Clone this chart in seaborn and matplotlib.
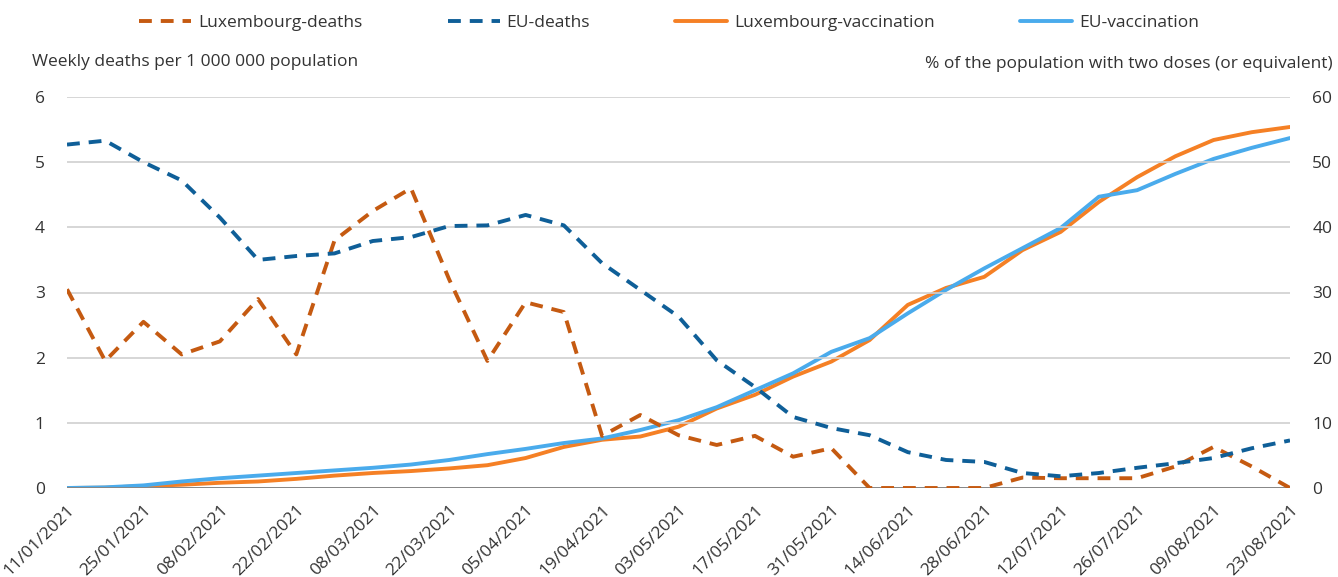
import numpy as np
import pandas as pd
import matplotlib
matplotlib.use("Agg")
import matplotlib.pyplot as plt
import seaborn as sns

sns.set_theme(style="white")
plt.rcParams['font.family'] = ['Open Sans', 'DejaVu Sans']

weeks = pd.date_range("2021-01-11", "2021-08-23", freq="7D")

lux_deaths = [3.05, 1.95, 2.55, 2.05, 2.25, 2.9, 2.05, 3.8, 4.25, 4.6, 3.2, 1.95,
              2.85, 2.7, 0.8, 1.12, 0.81, 0.66, 0.8, 0.48, 0.61, 0.0, 0.0, 0.0,
              0.0, 0.16, 0.15, 0.15, 0.15, 0.33, 0.63, 0.33, 0.0]
eu_deaths = [5.27, 5.33, 5.0, 4.72, 4.15, 3.5, 3.56, 3.6, 3.79, 3.85, 4.02, 4.03,
             4.19, 4.03, 3.45, 3.04, 2.63, 1.96, 1.55, 1.09, 0.92, 0.81, 0.55, 0.43,
             0.4, 0.23, 0.18, 0.23, 0.31, 0.38, 0.46, 0.61, 0.73]
lux_vacc = [0.0, 0.05, 0.3, 0.5, 0.8, 1.0, 1.4, 1.9, 2.3, 2.6, 3.0, 3.5,
            4.6, 6.3, 7.4, 7.9, 9.4, 12.2, 14.3, 17.1, 19.4, 22.7, 28.1, 30.7,
            32.4, 36.5, 39.3, 43.9, 47.7, 50.9, 53.4, 54.6, 55.4]
eu_vacc = [0.0, 0.1, 0.4, 1.0, 1.5, 1.9, 2.3, 2.7, 3.1, 3.6, 4.3, 5.2,
           6.0, 6.9, 7.6, 8.9, 10.4, 12.4, 15.0, 17.6, 20.9, 23.0, 26.8, 30.4,
           33.7, 36.8, 39.9, 44.7, 45.7, 48.2, 50.5, 52.2, 53.7]

tick_labels = ["11/01/2021", "25/01/2021", "08/02/2021", "22/02/2021", "08/03/2021",
               "22/03/2021", "05/04/2021", "19/04/2021", "03/05/2021", "17/05/2021",
               "31/05/2021", "14/06/2021", "28/06/2021", "12/07/2021", "26/07/2021",
               "09/08/2021", "23/08/2021"]

c_lux_d = "#C55A11"
c_eu_d = "#0F5F98"
c_lux_v = "#F58025"
c_eu_v = "#4AABEC"

df = pd.DataFrame({"x": np.arange(len(weeks)), "lux_d": lux_deaths, "eu_d": eu_deaths,
                   "lux_v": lux_vacc, "eu_v": eu_vacc})

fig = plt.figure(figsize=(13.38, 5.77), dpi=100)
ax = fig.add_axes([67/1338, 1 - 488/577, (1290-67)/1338, (488-97)/577])
ax2 = ax.twinx()

lw = 2.8
dash = (3.3, 2.3)
sns.lineplot(data=df, x="x", y="lux_d", ax=ax, color=c_lux_d, lw=lw, label="Luxembourg-deaths", legend=False)
sns.lineplot(data=df, x="x", y="eu_d", ax=ax, color=c_eu_d, lw=lw, label="EU-deaths", legend=False)
for ln in ax.lines:
    ln.set_dashes(dash)
sns.lineplot(data=df, x="x", y="lux_v", ax=ax2, color=c_lux_v, lw=lw, label="Luxembourg-vaccination", legend=False)
sns.lineplot(data=df, x="x", y="eu_v", ax=ax2, color=c_eu_v, lw=lw, label="EU-vaccination", legend=False)

ax.set_xlim(0, len(weeks) - 1)
ax.set_ylim(0, 6)
ax2.set_ylim(0, 60)
ax.set_yticks(range(0, 7))
ax2.set_yticks(range(0, 61, 10))
ax.set_xticks(np.arange(0, len(weeks), 2))
ax.set_xticklabels(tick_labels, rotation=45, ha="right", rotation_mode="anchor")
ax.set_xlabel("")
ax.set_ylabel("")
ax2.set_ylabel("")

ax.grid(axis="y", color="#d0d0d0", lw=1.2)
ax.set_axisbelow(True)
for a in (ax, ax2):
    for s in ("top", "left", "right"):
        a.spines[s].set_visible(False)
    a.spines["bottom"].set_visible(False)
    a.tick_params(length=0, colors="#333333", labelsize=12.5)
ax.axhline(0, color="#808080", lw=1.3, zorder=1)
ax.tick_params(axis="y", pad=16)
ax2.tick_params(axis="y", pad=16)
ax.tick_params(axis="x", pad=10)
ax.set_zorder(ax2.get_zorder() + 1)
ax.patch.set_visible(False)

fig.text(32/1338, 1 - 62/577, "Weekly deaths per 1 000 000 population", fontsize=12.5,
         color="#333333", va="center", ha="left")
fig.text(1333/1338, 1 - 64/577, "% of the population with two doses (or equivalent)", fontsize=12.5,
         color="#333333", va="center", ha="right")

h1, l1 = ax.get_legend_handles_labels()
h2, l2 = ax2.get_legend_handles_labels()
fig.legend(h1 + h2, l1 + l2, loc="center", bbox_to_anchor=(0.5, 1 - 23/577), ncol=4,
           frameon=False, fontsize=12.5, handlelength=3.0, columnspacing=4.9, handletextpad=0.4,
           labelcolor="#333333")

fig.savefig("out.png", dpi=100)
